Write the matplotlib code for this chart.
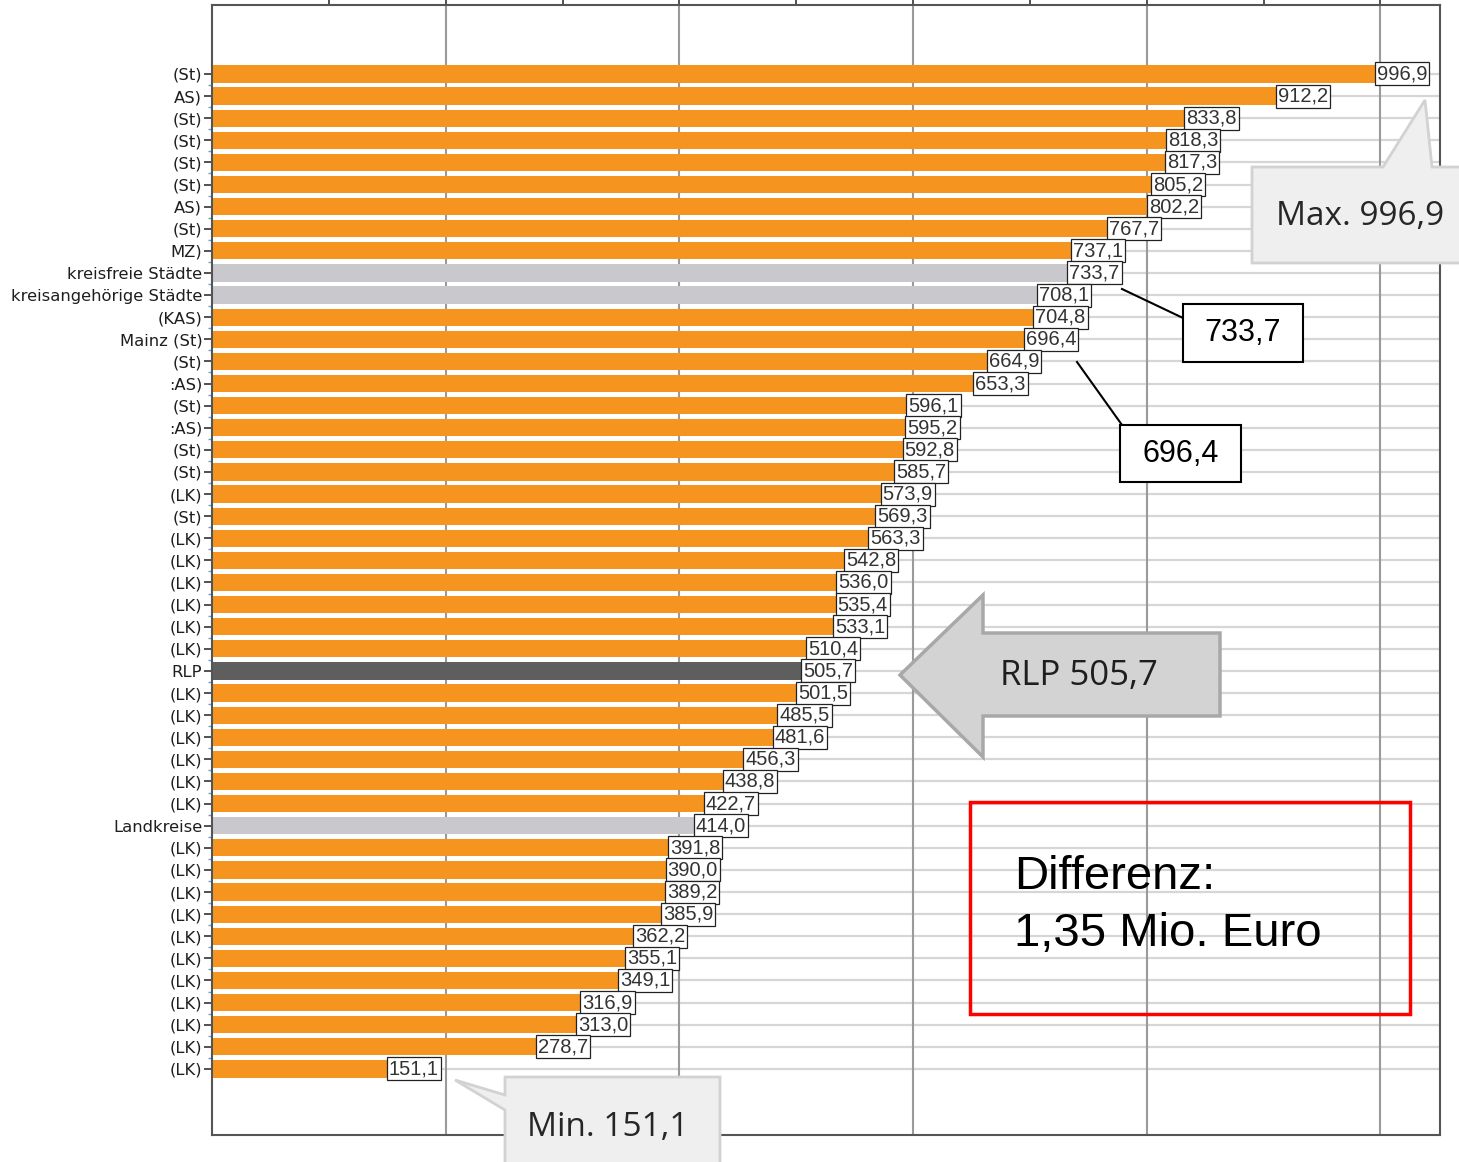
import numpy as np
import matplotlib.pyplot as plt
from matplotlib.patches import Polygon, Rectangle
from matplotlib.lines import Line2D

# Zeilen von oben nach unten
labels = ["(St)", "AS)", "(St)", "(St)", "(St)", "(St)", "AS)", "(St)", "MZ)",
          "kreisfreie Städte", "kreisangehörige Städte", "(KAS)", "Mainz (St)",
          "(St)", ":AS)", "(St)", ":AS)", "(St)", "(St)", "(LK)", "(St)", "(LK)",
          "(LK)", "(LK)", "(LK)", "(LK)", "(LK)", "RLP",
          "(LK)", "(LK)", "(LK)", "(LK)", "(LK)", "(LK)", "Landkreise",
          "(LK)", "(LK)", "(LK)", "(LK)", "(LK)", "(LK)", "(LK)", "(LK)", "(LK)",
          "(LK)", "(LK)"]
values = [996.9, 912.2, 833.8, 818.3, 817.3, 805.2, 802.2, 767.7, 737.1,
          733.7, 708.1, 704.8, 696.4, 664.9, 653.3, 596.1, 595.2, 592.8, 585.7,
          573.9, 569.3, 563.3, 542.8, 536.0, 535.4, 533.1, 510.4, 505.7,
          501.5, 485.5, 481.6, 456.3, 438.8, 422.7, 414.0,
          391.8, 390.0, 389.2, 385.9, 362.2, 355.1, 349.1, 316.9, 313.0,
          278.7, 151.1]
aggregates = ["kreisfreie Städte", "kreisangehörige Städte", "Landkreise"]

ORANGE = "#F5951F"
LIGHT = "#C9C9CD"
DARK = "#5E5E5E"

def fmt(v):
    return f"{v:.1f}".replace(".", ",")

colors = [DARK if l == "RLP" else LIGHT if l in aggregates else ORANGE
          for l in labels]

W, H = 1459, 1162
fig = plt.figure(figsize=(W / 100, H / 100), dpi=100)
ax = fig.add_axes([212 / W, 1 - 1135 / H, (1440 - 212) / W, (1135 - 5) / H])

y = np.arange(len(values))
ax.barh(y, values, height=0.78, color=colors, zorder=2)

ax.set_xlim(0, 1051)
ax.set_ylim(47.99, -3.12)

# Gitter: senkrecht alle 200, waagerecht je Zeile
for gx in range(200, 1001, 200):
    ax.axvline(gx, color="#9a9a9a", lw=1.5, zorder=1)
for gy in y:
    ax.axhline(gy, color="#d6d6d6", lw=1.6, zorder=0.5)

ax.set_yticks(y)
ax.set_yticklabels(labels, fontsize=11.8, family="DejaVu Sans", color="#1e1e1e")
ax.set_yticks(y[:-1] + 0.5, minor=True)
ax.tick_params(axis="y", which="major", length=6, width=1.2, color="#333333", pad=1)
ax.tick_params(axis="y", which="minor", length=3, width=1, color="#6a9fd4")

ax.xaxis.set_ticks_position("top")
ax.set_xticks(np.arange(100, 1001, 100))
ax.set_xticklabels([])
ax.tick_params(axis="x", which="major", length=5, width=1.2, color="#333333")

for s in ax.spines.values():
    s.set_color("#555555")
    s.set_linewidth(1.5)

# Wertebeschriftungen
for yi, v in zip(y, values):
    ax.text(v, yi, fmt(v), ha="left", va="center", fontsize=14.5,
            family="Liberation Sans", color="#333333", zorder=4,
            bbox=dict(boxstyle="square,pad=0.1", fc="white", ec="#222222", lw=0.9))

def fp(pts):
    return [(px / W, 1 - py / H) for px, py in pts]

def shape(pts, fc, ec, lw):
    fig.patches.append(Polygon(fp(pts), closed=True, transform=fig.transFigure,
                               fc=fc, ec=ec, lw=lw, zorder=5))

def ftext(px, py, s, **kw):
    fig.text(px / W, 1 - py / H, s, zorder=6, **kw)

# Max-Hinweis
shape([(1252, 167), (1383, 167), (1425, 100), (1432, 167), (1475, 167),
       (1475, 263), (1252, 263)], "#EFEFEF", "#D2D2D2", 2)
ftext(1360, 216, "Max. " + fmt(max(values)), ha="center", va="center",
      fontsize=24, family="Open Sans", color="#262626")

# Min-Hinweis
shape([(505, 1077), (720, 1077), (720, 1175), (505, 1175), (505, 1110),
       (455, 1080), (505, 1095)], "#EFEFEF", "#D2D2D2", 2)
ftext(608, 1127, "Min. " + fmt(min(values)), ha="center", va="center",
      fontsize=24, family="Open Sans", color="#262626")

# RLP-Pfeil
rlp = values[labels.index("RLP")]
shape([(900, 675), (983, 595), (983, 633), (1220, 633), (1220, 716),
       (983, 716), (983, 757)], "#D3D3D3", "#A8A8A8", 2.5)
ftext(1079, 676, "RLP " + fmt(rlp), ha="center", va="center",
      fontsize=25, family="Open Sans", color="#1E1E1E")

# Hervorgehobene Werte mit Verbindungslinie
for (x0, y0, x1, y1), (bx, by, bw, bh), val in [
        ((1122, 289, 1183, 318), (1183, 304, 120, 58), values[9]),
        ((1077, 362, 1122, 425), (1120, 425, 121, 57), values[12])]:
    fig.lines.append(Line2D([x0 / W, x1 / W], [1 - y0 / H, 1 - y1 / H],
                            transform=fig.transFigure, color="black", lw=1.5))
    fig.patches.append(Rectangle((bx / W, 1 - (by + bh) / H), bw / W, bh / H,
                                 transform=fig.transFigure, fc="white",
                                 ec="black", lw=1.5, zorder=5))
    ftext(bx + bw / 2, by + bh / 2, fmt(val), ha="center", va="center",
          fontsize=22, family="Liberation Sans", color="black")

# Differenz-Kasten
fig.patches.append(Rectangle((970 / W, 1 - 1014 / H), 440 / W, 212 / H,
                             transform=fig.transFigure, fc="none",
                             ec="#FF0000", lw=2.5, zorder=5))
ftext(1014, 877, "Differenz:", ha="left", va="center",
      fontsize=34, family="Liberation Sans", color="black")
ftext(1014, 934, "1,35 Mio. Euro", ha="left", va="center",
      fontsize=34, family="Liberation Sans", color="black")

fig.savefig("out.png", dpi=100)
